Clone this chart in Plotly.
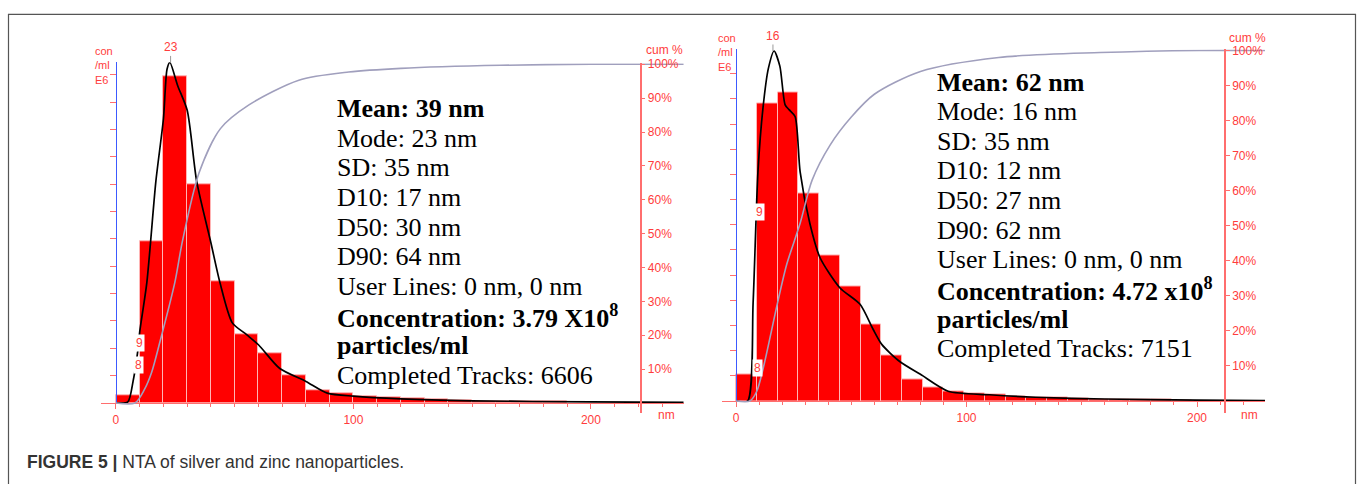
import plotly.graph_objects as go

W, H = 1358, 484

# ---------------- Silver (left panel) ----------------
ag_bin_width = 10
ag_bin_centers = [5, 15, 25, 35, 45, 55, 65, 75, 85, 95, 105, 115, 125, 135, 145, 155, 165, 175, 185]
ag_conc = [0.29, 5.92, 11.95, 8.0, 4.44, 2.53, 1.80, 1.01, 0.47, 0.36, 0.25, 0.20, 0.16, 0.12, 0.10, 0.08, 0.07, 0.06, 0.05]
ag_fit_nm = [0, 5, 7.2, 9.3, 10, 13, 16.8, 20, 21.5, 22.7, 26, 30, 34, 40, 43.8, 49, 55, 60, 69, 80, 89, 100, 120, 150, 200, 239]
ag_fit_conc = [0, 0.04, 0.79, 1.98, 2.6, 4.4, 8.1, 10.4, 12.2, 12.45, 11.6, 10.7, 8.1, 5.85, 4.4, 2.93, 2.5, 2.13, 1.26, 0.79, 0.36, 0.25, 0.15, 0.08, 0.04, 0.02]
ag_cum_nm = [0, 8, 12, 15, 18.5, 24.8, 28, 35, 44, 56, 77, 98, 120, 162, 200, 239]
ag_cum_pct = [0, 0, 4, 9, 18, 35.6, 47.8, 68, 81, 88, 95.3, 97.7, 98.8, 99.7, 100, 100]
ag_mode = 23
ag_labels = [("9", 10.1, 2.2), ("8", 9.3, 1.4)]
ag_stats = [
    "<b>Mean: 39 nm</b>", "Mode: 23 nm", "SD: 35 nm", "D10: 17 nm", "D50: 30 nm", "D90: 64 nm",
    "User Lines: 0 nm, 0 nm", "<b>Concentration: 3.79 X10<sup>8</sup></b>", "<b>particles/ml</b>",
    "Completed Tracks: 6606",
]

# ---------------- Zinc (right panel) ----------------
zn_bin_width = 9
zn_bin_centers = [4.5, 13.5, 22.5, 31.5, 40.5, 49.5, 58.5, 67.5, 76.5, 85.5, 94.5, 103.5, 112.5, 121.5,
                  130.5, 139.5, 148.5, 157.5, 166.5, 175.5, 184.5, 193.5]
zn_conc = [1.06, 11.8, 12.24, 8.24, 5.8, 4.55, 3.06, 1.8, 0.86, 0.55, 0.4, 0.3, 0.25, 0.2, 0.16, 0.13,
           0.1, 0.08, 0.07, 0.06, 0.05, 0.04]
zn_fit_nm = [0, 5, 7.4, 9.5, 11.7, 14, 16.5, 19, 21.3, 23, 25.6, 27.8, 32, 36.4, 45, 53.8, 59.4, 63.3, 71, 80, 92, 110, 130, 160, 200, 229.5]
zn_fit_conc = [0, 0, 3.9, 9.1, 11.65, 13.2, 13.9, 13.3, 11.76, 11.57, 11.3, 9.1, 7.06, 5.7, 4.5, 3.84, 2.86, 2.24, 1.57, 1.06, 0.39, 0.25, 0.15, 0.08, 0.04, 0.02]
zn_cum_nm = [0, 6, 9, 12, 18, 22, 27.8, 33, 40.8, 50, 60, 80, 114, 158, 201, 229.5]
zn_cum_pct = [0, 0, 2.8, 10, 28, 39, 50.7, 63, 73, 81, 87.5, 94, 98, 99.4, 100, 100]
zn_mode = 16
zn_labels = [("9", 10.0, 7.5), ("8", 9.1, 1.3)]
zn_stats = [
    "<b>Mean: 62 nm</b>", "Mode: 16 nm", "SD: 35 nm", "D10: 12 nm", "D50: 27 nm", "D90: 62 nm",
    "User Lines: 0 nm, 0 nm", "<b>Concentration: 4.72 x10<sup>8</sup></b>", "<b>particles/ml</b>",
    "Completed Tracks: 7151",
]

cum_ticks = [10, 20, 30, 40, 50, 60, 70, 80, 90, 100]

RED = "#ff0000"
LBL = "#ff3c3c"
AXRED = "#ff6e6e"
BLUE = "#3c5aff"
CUMC = "#a09fbd"
SANS = "Liberation Sans"
SERIF = "Liberation Serif"


def px(x):
    return x / W


def py(y):
    return 1 - y / H


fig = go.Figure()

panels = [
    dict(xa="x", ya="y", ya2="y2", centers=ag_bin_centers, conc=ag_conc, bw=ag_bin_width,
         fnm=ag_fit_nm, fc=ag_fit_conc, cnm=ag_cum_nm, cp=ag_cum_pct, mode=ag_mode, labels=ag_labels,
         stats=ag_stats, tx=335, ty=104,
         x0=101, x1=684, xr=(-6.3, 239.2), yax=116, ybot=402, ytop=57, yscale=27.7,
         cumx=640.7, cbot=412, ctop=58, cscale=3.43, con=(93, 60), cum=(644, 45), nm=(666, 414)),
    dict(xa="x2", ya="y3", ya2="y4", centers=zn_bin_centers, conc=zn_conc, bw=zn_bin_width,
         fnm=zn_fit_nm, fc=zn_fit_conc, cnm=zn_cum_nm, cp=zn_cum_pct, mode=zn_mode, labels=zn_labels,
         stats=zn_stats, tx=935, ty=77,
         x0=722, x1=1265, xr=(-6.1, 229.5), yax=736, ybot=400, ytop=44, yscale=25.5,
         cumx=1225, cbot=412, ctop=44, cscale=3.55, con=(716, 47), cum=(1227, 32), nm=(1249, 414)),
]

annotations = []
layout_axes = {}

for p in panels:
    fig.add_trace(go.Bar(
        x=p["centers"], y=p["conc"], width=p["bw"],
        marker=dict(color=RED, line=dict(color="#ffb4b4", width=1)),
        xaxis=p["xa"], yaxis=p["ya"], showlegend=False,
    ))
    fig.add_trace(go.Scatter(
        x=p["cnm"], y=p["cp"], mode="lines",
        line=dict(color=CUMC, width=1.6, shape="spline", smoothing=0.8),
        xaxis=p["xa"], yaxis=p["ya2"], showlegend=False,
    ))
    fig.add_trace(go.Scatter(
        x=p["fnm"], y=p["fc"], mode="lines",
        line=dict(color="black", width=1.7, shape="spline", smoothing=0.7),
        xaxis=p["xa"], yaxis=p["ya"], showlegend=False,
    ))

    xkey = "xaxis" if p["xa"] == "x" else "xaxis" + p["xa"][1:]
    ykey = "yaxis" if p["ya"] == "y" else "yaxis" + p["ya"][1:]
    y2key = "yaxis" + p["ya2"][1:]

    layout_axes[xkey] = dict(
        domain=[px(p["x0"]), px(p["x1"])], range=list(p["xr"]), anchor=p["ya"],
        showline=True, linecolor=AXRED, linewidth=1.2, showgrid=False, zeroline=False,
        ticks="outside", tickmode="linear", tick0=0, dtick=100, ticklen=5, tickcolor=AXRED,
        tickfont=dict(family=SANS, size=12, color=LBL),
        minor=dict(ticks="outside", dtick=10, tick0=0, ticklen=3, tickcolor=AXRED, showgrid=False),
    )
    ymax = (p["ybot"] - p["ytop"]) / p["yscale"]
    layout_axes[ykey] = dict(
        domain=[py(p["ybot"]), py(p["ytop"])], range=[0, ymax], anchor="free", position=px(p["yax"]),
        showline=True, linecolor=BLUE, linewidth=1.3, showgrid=False, zeroline=False,
        ticks="outside", tickmode="linear", tick0=0, dtick=1, ticklen=6, tickcolor=AXRED,
        showticklabels=False,
    )
    layout_axes[y2key] = dict(
        domain=[py(p["cbot"]), py(p["ctop"])],
        range=[-(p["cbot"] - p["ybot"]) / p["cscale"], (p["ybot"] - p["ctop"]) / p["cscale"]],
        anchor="free", position=px(p["cumx"]), side="right",
        showline=True, linecolor=AXRED, linewidth=1.5, showgrid=False, zeroline=False,
        ticks="outside", tickvals=cum_ticks, ticktext=[f"{v}%" for v in cum_ticks],
        ticklen=4, tickcolor=AXRED, tickfont=dict(family=SANS, size=12, color=LBL),
    )

    # peak label
    annotations.append(dict(
        x=p["mode"], y=max(p["fc"]), xref=p["xa"], yref=p["ya"], text=str(p["mode"]),
        showarrow=True, arrowhead=0, arrowwidth=1, arrowcolor="#999999", ax=0, ay=-15,
        font=dict(family=SANS, size=12, color=LBL),
    ))
    for t, lx, ly in p["labels"]:
        annotations.append(dict(
            x=lx, y=ly, xref=p["xa"], yref=p["ya"], text=t, showarrow=False,
            bgcolor="white", borderpad=1, font=dict(family=SANS, size=12, color=LBL),
        ))
    # axis titles (centered on middle line)
    annotations.append(dict(
        x=px(p["con"][0]), y=py(p["con"][1]), xref="paper", yref="paper", text="con<br>/ml<br>E6",
        xanchor="left", yanchor="middle", align="left", showarrow=False,
        font=dict(family=SANS, size=11, color=LBL),
    ))
    annotations.append(dict(
        x=px(p["cum"][0]), y=py(p["cum"][1]), xref="paper", yref="paper", text="cum %",
        xanchor="left", yanchor="middle", showarrow=False, font=dict(family=SANS, size=12, color=LBL),
    ))
    annotations.append(dict(
        x=px(p["nm"][0]), y=py(p["nm"][1]), xref="paper", yref="paper", text="nm",
        xanchor="center", yanchor="middle", showarrow=False, font=dict(family=SANS, size=12, color=LBL),
    ))
    # statistics text
    for i, line in enumerate(p["stats"]):
        annotations.append(dict(
            x=px(p["tx"]), y=py(p["ty"] + 30 * i), xref="paper", yref="paper", text=line,
            xanchor="left", yanchor="middle", showarrow=False,
            font=dict(family=SERIF, size=26, color="black"),
        ))

annotations.append(dict(
    x=px(25), y=py(462), xref="paper", yref="paper",
    text="<b>FIGURE 5 |</b> NTA of silver and zinc nanoparticles.",
    xanchor="left", yanchor="middle", showarrow=False,
    font=dict(family=SANS, size=17.5, color="#333333"),
))

fig.update_layout(
    width=W, height=H, margin=dict(l=0, r=0, t=0, b=0),
    paper_bgcolor="white", plot_bgcolor="rgba(0,0,0,0)",
    showlegend=False, bargap=0,
    annotations=annotations,
    shapes=[dict(type="rect", xref="paper", yref="paper", x0=px(8.5), x1=px(1355.5), y0=py(8.5), y1=py(520),
                 line=dict(color="#555555", width=1.2), fillcolor="rgba(0,0,0,0)", layer="below")],
    **layout_axes,
)

fig.write_html("out.html", config={"displayModeBar": False},
               post_script="document.body.style.margin='0';document.body.style.overflow='hidden';")
